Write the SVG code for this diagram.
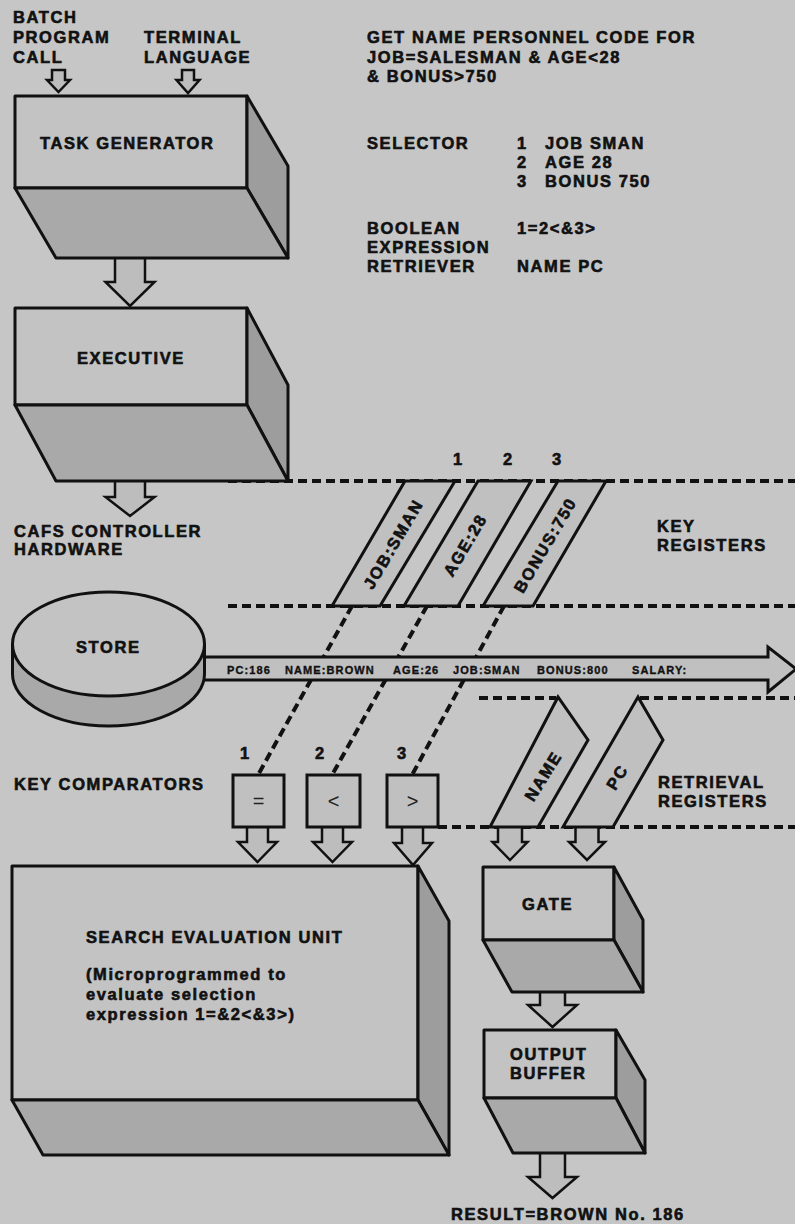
<svg xmlns="http://www.w3.org/2000/svg" width="795" height="1224" viewBox="0 0 795 1224">
<style>
.t{font-family:"Liberation Sans",Arial,sans-serif;font-weight:bold;font-size:16.5px;letter-spacing:1.6px;fill:#111;stroke:#111;stroke-width:0.6px}
.s{font-family:"Liberation Sans",Arial,sans-serif;font-weight:bold;font-size:11px;letter-spacing:1.1px;fill:#111;stroke:#111;stroke-width:0.35px}
.sym{font-family:"Liberation Sans",Arial,sans-serif;font-size:20px;fill:#222;text-anchor:middle}
.front{fill:#c3c3c3;stroke:#111;stroke-width:3;stroke-linejoin:round}
.side{fill:#9d9d9d;stroke:#111;stroke-width:3;stroke-linejoin:round}
.bottom{fill:#a9a9a9;stroke:#111;stroke-width:3;stroke-linejoin:round}
.arr{fill:#bdbdbd;stroke:#111;stroke-width:2.5;stroke-linejoin:miter}
.reg{fill:#c0c0c0;stroke:#111;stroke-width:3;stroke-linejoin:miter}
.dash{fill:none;stroke:#111;stroke-width:4;stroke-dasharray:9 5}
</style>
<rect width="795" height="1224" fill="#c6c6c6"/>

<g id="connectors">
  <path class="dash" d="M228,481 H795"/>
  <path class="dash" d="M228,606 H795"/>
  <path class="dash" d="M352,606 L258,775"/>
  <path class="dash" d="M427,606 L332,775"/>
  <path class="dash" d="M504,606 L412,775"/>
  <path class="dash" d="M479,698 H556"/>
  <path class="dash" d="M640,698 H795"/>
  <path class="dash" d="M438,827 H795"/>
  <path class="arr" d="M52,70 V80 H47 L58.5,92 L70,80 H65 V70 Z"/>
  <path class="arr" d="M182,70 V80 H176.5 L188,93 L199.5,80 H194 V70 Z"/>
  <path class="arr" d="M115,258 V282 H105.5 L130,306 L154.5,282 H145 V258"/>
  <path class="arr" d="M115,480 V497 H105.5 L130,516 L154.5,497 H145 V480"/>
  <path class="arr" d="M247,827 V842 H238 L257.5,862 L277,842 H268 V827"/>
  <path class="arr" d="M322,827 V842 H313 L332.5,862 L352,842 H343 V827"/>
  <path class="arr" d="M402,827 V843 H394 L413,865 L432,843 H423 V827"/>
  <path class="arr" d="M498,827 V842 H492.5 L510,860 L527.5,842 H522 V827"/>
  <path class="arr" d="M575.5,827 V842 H569 L587,860 L605,842 H598.5 V827"/>
  <path class="arr" d="M540,990 V1005 H528 L552.5,1027 L577,1005 H565 V990"/>
  <path class="arr" d="M540,1153 V1177 H528 L552.5,1198 L577,1177 H565 V1153"/>
</g>

<g id="labels">
  <text class="t" x="13" y="23">BATCH</text>
  <text class="t" x="13" y="43">PROGRAM</text>
  <text class="t" x="13" y="63">CALL</text>
  <text class="t" x="144" y="43">TERMINAL</text>
  <text class="t" x="144" y="63">LANGUAGE</text>
  <text class="t" x="367" y="43">GET NAME PERSONNEL CODE FOR</text>
  <text class="t" x="367" y="63">JOB=SALESMAN &amp; AGE&lt;28</text>
  <text class="t" x="367" y="82">&amp; BONUS&gt;750</text>
  <text class="t" x="367" y="149">SELECTOR</text>
  <text class="t" x="517" y="149">1</text>
  <text class="t" x="545" y="149">JOB SMAN</text>
  <text class="t" x="517" y="168">2</text>
  <text class="t" x="545" y="168">AGE 28</text>
  <text class="t" x="517" y="187">3</text>
  <text class="t" x="545" y="187">BONUS 750</text>
  <text class="t" x="367" y="234">BOOLEAN</text>
  <text class="t" x="367" y="253">EXPRESSION</text>
  <text class="t" x="367" y="272">RETRIEVER</text>
  <text class="t" x="517" y="234">1=2&lt;&amp;3&gt;</text>
  <text class="t" x="517" y="272">NAME PC</text>
  <text class="t" x="14" y="537">CAFS CONTROLLER</text>
  <text class="t" x="14" y="555">HARDWARE</text>
  <text class="t" x="453" y="465">1</text>
  <text class="t" x="503" y="465">2</text>
  <text class="t" x="552" y="465">3</text>
  <text class="t" x="657" y="532">KEY</text>
  <text class="t" x="657" y="551">REGISTERS</text>
  <text class="t" x="240" y="759">1</text>
  <text class="t" x="315" y="759">2</text>
  <text class="t" x="397" y="759">3</text>
  <text class="t" x="14" y="790">KEY COMPARATORS</text>
  <text class="t" x="658" y="788">RETRIEVAL</text>
  <text class="t" x="658" y="807">REGISTERS</text>
  <text class="t" x="451" y="1220">RESULT=BROWN No. 186</text>
</g>

<g id="task-generator">
  <rect class="front" x="15" y="96" width="232" height="92"/>
  <polygon class="side" points="247,96 288,166 288,258 247,188"/>
  <polygon class="bottom" points="15,188 247,188 288,258 56,258"/>
  <text class="t" x="40" y="149">TASK GENERATOR</text>
</g>

<g id="executive">
  <rect class="front" x="15" y="308" width="232" height="97"/>
  <polygon class="side" points="247,308 288,385 288,481 247,405"/>
  <polygon class="bottom" points="15,405 247,405 288,481 56,481"/>
  <text class="t" x="77" y="364">EXECUTIVE</text>
</g>

<g id="key-registers">
  <g id="reg-job">
    <polygon class="reg" points="405,481 455,481 380,606 332,606"/>
    <text class="t" text-anchor="middle" dominant-baseline="central" transform="translate(393,544) rotate(-59.5)">JOB:SMAN</text>
  </g>
  <g id="reg-age">
    <polygon class="reg" points="478,481 531,481 458,606 404,606"/>
    <text class="t" text-anchor="middle" dominant-baseline="central" transform="translate(465,545) rotate(-59.5)">AGE:28</text>
  </g>
  <g id="reg-bonus">
    <polygon class="reg" points="558,481 606,481 533,606 483,606"/>
    <text class="t" text-anchor="middle" dominant-baseline="central" transform="translate(545,545) rotate(-59.5)">BONUS:750</text>
  </g>
</g>

<g id="data-stream">
  <polygon class="reg" stroke-width="3.5" points="195,657 768,657 768,647 796,669 768,692 768,680 195,680"/>
  <text class="s" x="227" y="674">PC:186</text>
  <text class="s" x="285" y="674">NAME:BROWN</text>
  <text class="s" x="393" y="674">AGE:26</text>
  <text class="s" x="453" y="674">JOB:SMAN</text>
  <text class="s" x="537" y="674">BONUS:800</text>
  <text class="s" x="632" y="674">SALARY:</text>
</g>

<g id="store">
  <path class="bottom" d="M12.5,644 V674 A96,52 0 0 0 204.5,674 V644 Z"/>
  <ellipse class="front" cx="108.5" cy="644" rx="96" ry="52"/>
  <text class="t" x="76" y="653">STORE</text>
</g>

<g id="retrieval-registers">
  <g id="reg-name">
    <polygon class="reg" points="490,827 558,697 588,740 538,827"/>
    <text class="t" text-anchor="middle" dominant-baseline="central" transform="translate(543,776) rotate(-58)">NAME</text>
  </g>
  <g id="reg-pc">
    <polygon class="reg" points="563,827 638,697 663,740 613,827"/>
    <text class="t" text-anchor="middle" dominant-baseline="central" transform="translate(617,777) rotate(-58)">PC</text>
  </g>
</g>

<g id="comparators">
  <g id="cmp-eq">
    <rect class="reg" x="233" y="775" width="51" height="52"/>
    <text class="sym" x="258.5" y="808">=</text>
  </g>
  <g id="cmp-lt">
    <rect class="reg" x="307" y="775" width="53" height="52"/>
    <text class="sym" x="333.5" y="808">&lt;</text>
  </g>
  <g id="cmp-gt">
    <rect class="reg" x="387" y="775" width="51" height="52"/>
    <text class="sym" x="412.5" y="808">&gt;</text>
  </g>
</g>

<g id="search-evaluation-unit">
  <rect class="front" x="12" y="866" width="406" height="234"/>
  <polygon class="side" points="418,866 449,921 449,1155 418,1100"/>
  <polygon class="bottom" points="12,1100 418,1100 449,1155 43,1155"/>
  <text class="t" x="86" y="943">SEARCH EVALUATION UNIT</text>
  <text class="t" x="86" y="980">(Microprogrammed to</text>
  <text class="t" x="86" y="1000">evaluate selection</text>
  <text class="t" x="86" y="1020">expression 1=&amp;2&lt;&amp;3&gt;)</text>
</g>

<g id="gate">
  <rect class="front" x="483" y="867" width="131" height="73"/>
  <polygon class="side" points="614,867 643,920 643,992 614,940"/>
  <polygon class="bottom" points="483,940 614,940 643,992 512,992"/>
  <text class="t" x="522" y="910">GATE</text>
</g>

<g id="output-buffer">
  <rect class="front" x="484" y="1030" width="132" height="68"/>
  <polygon class="side" points="616,1030 645,1080 645,1153 616,1098"/>
  <polygon class="bottom" points="484,1098 616,1098 645,1153 513,1153"/>
  <text class="t" x="510" y="1060">OUTPUT</text>
  <text class="t" x="510" y="1079">BUFFER</text>
</g>
</svg>
